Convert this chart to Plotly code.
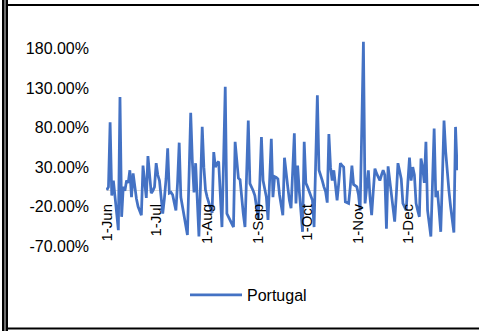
import plotly.graph_objects as go
import pandas as pd

# Daily series Jun 1 - Dec 31 (percent)
start_date = "2020-06-01"
portugal = [
    1, 5, 87, -6, 13, -8, -20, -50, 119, -33,
    5, 0, 13, 10, 26, -8, 22, 5, -10, -20,
    -25, -31, 32, 10, -9, 44, 15, -3, 0, 5,
    35, 20, 13, -5, -29, -10, 15, 54, -3, -2,
    -5, -15, -25, 10, 61, -8, -20, -37, -45, -56,
    20, 99, 37, -2, 35, -10, -58, 10, 81, 30,
    1, -8, -16, -22, -28, 49, 30, 35, 37, -5,
    -46, 40, 132, -29, -33, -37, -42, -46, 62, 35,
    16, 14, -10, -30, -46, 20, 89, 9, 5, 0,
    -6, -20, -35, 10, 68, 13, 2, -8, -37, 15,
    66, -8, 18, 17, 15, -5, -20, -31, 42, 20,
    5, -12, -22, 25, 73, -16, 32, 0, -25, -52,
    62, 10, 5, 0, -5, -12, -46, 35, 121, 26,
    20, 13, 5, -1, -15, 72, 30, 13, 26, 8,
    -12, 10, 35, 32, 30, -14, -15, -16, 5, 32,
    8, 7, 5, -5, -25, 80, 189, -16, 5, 26,
    -8, -31, 0, 28, 22, 18, 13, 20, 26, 20,
    -48, 31, 13, 0, -16, -39, -5, 35, 25, 15,
    -16, -20, -25, 10, 42, 13, 30, 20, -16, -25,
    -33, 41, 30, 10, 62, -25, -40, -58, 10, 79,
    -8, 0, -25, -52, 15, 89, 50, 22, 0, -20,
    -35, -53, 81, 26,
]
dates = pd.date_range(start_date, periods=len(portugal), freq="D")

x_tick_vals = ["2020-06-01", "2020-07-01", "2020-08-01", "2020-09-01",
               "2020-10-01", "2020-11-01", "2020-12-01"]
x_tick_text = ["1-Jun", "1-Jul", "1-Aug", "1-Sep", "1-Oct", "1-Nov", "1-Dec"]
y_tick_vals = [-70, -20, 30, 80, 130, 180]
y_tick_text = ["-70.00%", "-20.00%", "30.00%", "80.00%", "130.00%", "180.00%"]

W, H = 479, 331
L, R, T, B = 106, 21, 37, 85
pw, ph = W - L - R, H - T - B

def px(x):
    return (x - L) / pw

def py(y):
    return (H - B - y) / ph

fig = go.Figure()
fig.add_trace(go.Scatter(
    x=dates, y=portugal, mode="lines", name="Portugal",
    line=dict(color="#4472C4", width=2.75),
))

font = dict(family="Liberation Sans, Arial, sans-serif", size=16, color="#000000")
xfont = dict(family="Liberation Sans, Arial, sans-serif", size=15, color="#000000")

fig.update_layout(
    width=W, height=H,
    margin=dict(l=L, r=R, t=T, b=B, pad=0),
    paper_bgcolor="white", plot_bgcolor="white",
    font=font,
    showlegend=True,
    legend=dict(orientation="h", x=px(185), xanchor="left", y=py(295), yanchor="middle",
                font=font, bgcolor="rgba(0,0,0,0)", itemwidth=52),
    xaxis=dict(
        type="date",
        range=["2020-05-31 12:00", "2020-12-31 12:00"],
        tickvals=x_tick_vals, ticktext=x_tick_text,
        tickangle=-90,
        anchor="free", position=py(191),
        showgrid=False, showline=False, zeroline=False,
        ticks="", ticklabelstandoff=9,
        tickfont=xfont,
    ),
    yaxis=dict(
        range=[-70, 195],
        tickvals=y_tick_vals, ticktext=y_tick_text,
        showgrid=False, showline=False,
        zeroline=True, zerolinecolor="#d9d9d9", zerolinewidth=1,
        ticks="", ticklabelstandoff=16,
        tickfont=font,
    ),
)

# outer chart frame
shapes = [
    dict(type="rect", xref="paper", yref="paper", x0=px(2), x1=px(8), y0=py(0), y1=py(H),
         fillcolor="#6e6e6e", line=dict(width=0), layer="above"),
    dict(type="line", xref="paper", yref="paper", x0=px(3), x1=px(3), y0=py(0), y1=py(H),
         line=dict(color="#000000", width=2), layer="above"),
    dict(type="line", xref="paper", yref="paper", x0=px(7), x1=px(7), y0=py(0), y1=py(H),
         line=dict(color="#000000", width=2), layer="above"),
    dict(type="line", xref="paper", yref="paper", x0=px(8), x1=px(W), y0=py(5), y1=py(5),
         line=dict(color="#000000", width=2), layer="above"),
    dict(type="line", xref="paper", yref="paper", x0=px(8), x1=px(W), y0=py(328.5), y1=py(328.5),
         line=dict(color="#000000", width=2), layer="above"),
]
fig.update_layout(shapes=shapes)

fig.write_html(
    "out.html",
    config={"displayModeBar": False},
    post_script="document.body.style.margin='0';document.body.style.overflow='hidden';",
)
